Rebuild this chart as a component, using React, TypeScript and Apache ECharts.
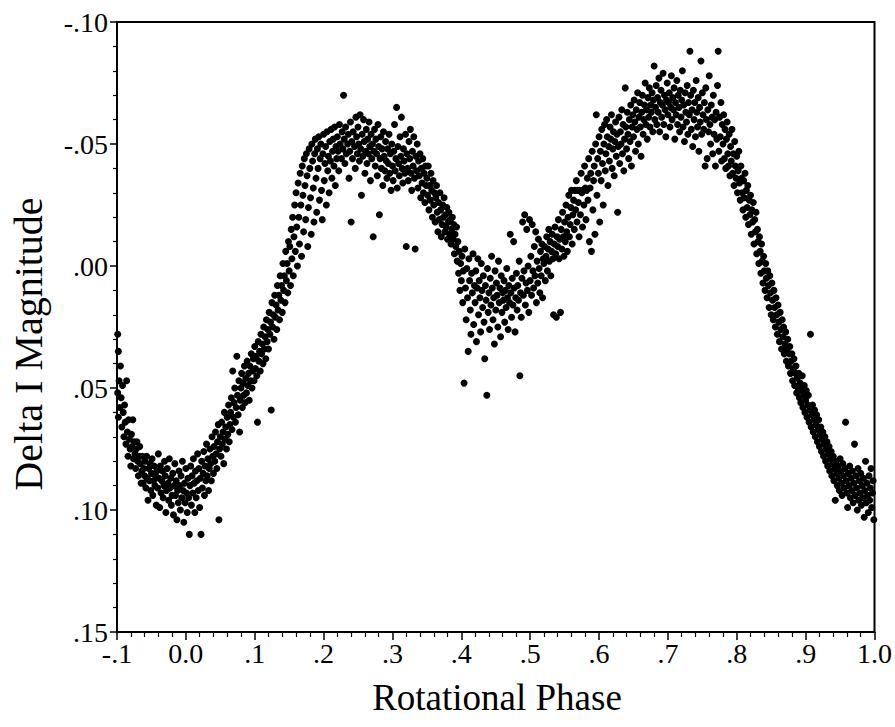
import React, { useEffect, useRef } from "react";
import * as echarts from "echarts";

// Rotational phase vs Delta I magnitude.
const leftEdge: [number, number][] = [
  [-0.099,0.028],[-0.098,0.035],[-0.097,0.047],[-0.099,0.052],[-0.096,0.058],[-0.095,0.041],[-0.098,0.062],[-0.094,0.054],[-0.093,0.066],[-0.092,0.049],[-0.091,0.060],[-0.090,0.070],[-0.089,0.057],[-0.088,0.064],[-0.087,0.073],[-0.086,0.047],[-0.085,0.068],[-0.084,0.078],[-0.083,0.063],[-0.082,0.071],[-0.081,0.075],[-0.080,0.082],[-0.079,0.069],[-0.078,0.074],[-0.077,0.063],[-0.076,0.079],[-0.075,0.072],[-0.074,0.077],[-0.073,0.083],[-0.072,0.075],[-0.071,0.072],[-0.070,0.080],[-0.069,0.086],[-0.068,0.078],[-0.067,0.074],[-0.066,0.081],[-0.065,0.089],[-0.064,0.084],[-0.063,0.078],[-0.062,0.089],[-0.061,0.083],[-0.060,0.086],[-0.059,0.080],[-0.058,0.091],[-0.057,0.078],[-0.056,0.087],[-0.055,0.096],[-0.054,0.083],[-0.053,0.088],[-0.052,0.081],[-0.051,0.092],
];

const primaryMinimum: [number, number][] = [
  [-0.050,0.085],[-0.049,0.079],[-0.048,0.094],[-0.047,0.088],[-0.046,0.082],[-0.045,0.090],[-0.044,0.086],[-0.043,0.098],[-0.042,0.084],[-0.041,0.091],[-0.040,0.077],[-0.039,0.087],[-0.038,0.099],[-0.037,0.082],[-0.036,0.093],[-0.035,0.088],[-0.034,0.084],[-0.033,0.095],[-0.032,0.090],[-0.031,0.080],[-0.030,0.086],[-0.029,0.101],[-0.028,0.092],[-0.027,0.083],[-0.026,0.089],[-0.025,0.096],[-0.024,0.079],[-0.023,0.091],[-0.022,0.087],[-0.021,0.098],[-0.020,0.094],[-0.019,0.085],[-0.018,0.102],[-0.017,0.090],[-0.016,0.081],[-0.015,0.094],[-0.014,0.088],[-0.013,0.104],[-0.012,0.092],[-0.011,0.097],[-0.010,0.084],[-0.009,0.090],[-0.008,0.100],[-0.007,0.086],[-0.006,0.095],[-0.005,0.080],[-0.004,0.092],[-0.003,0.105],[-0.002,0.089],[-0.001,0.097],[0.000,0.083],[0.001,0.093],[0.002,0.101],[0.003,0.087],[0.004,0.095],[0.005,0.110],[0.006,0.090],[0.007,0.082],[0.008,0.098],[0.009,0.086],[0.010,0.093],[0.011,0.079],[0.012,0.089],[0.013,0.101],[0.014,0.084],[0.015,0.095],[0.016,0.088],[0.017,0.077],[0.018,0.092],[0.019,0.083],[0.020,0.099],[0.021,0.087],[0.022,0.110],[0.023,0.080],[0.024,0.091],[0.025,0.085],[0.026,0.076],[0.027,0.094],[0.028,0.082],[0.029,0.088],[0.030,0.073],[0.031,0.086],[0.032,0.079],[0.033,0.092],[0.034,0.083],[0.035,0.075],[0.036,0.081],[0.037,0.088],[0.038,0.070],[0.039,0.078],[0.040,0.085],[0.041,0.074],[0.042,0.080],[0.043,0.068],[0.044,0.077],[0.045,0.083],[0.046,0.072],[0.047,0.065],[0.048,0.104],[0.049,0.075],
];

const risingBranch: [number, number][] = [
  [0.050,0.070],[0.051,0.078],[0.052,0.064],[0.053,0.073],[0.054,0.068],[0.055,0.081],[0.056,0.060],[0.057,0.071],[0.058,0.066],[0.059,0.075],[0.060,0.062],[0.061,0.069],[0.062,0.057],[0.063,0.072],[0.064,0.065],[0.065,0.060],[0.066,0.054],[0.067,0.067],[0.068,0.043],[0.069,0.062],[0.070,0.056],[0.071,0.050],[0.072,0.064],[0.073,0.058],[0.074,0.037],[0.075,0.053],[0.076,0.061],[0.077,0.047],[0.078,0.068],[0.079,0.055],[0.080,0.050],[0.081,0.044],[0.082,0.058],[0.083,0.048],[0.084,0.053],[0.085,0.041],[0.086,0.056],[0.087,0.046],[0.088,0.052],[0.089,0.039],[0.090,0.049],[0.091,0.044],[0.092,0.055],[0.093,0.041],[0.094,0.047],[0.095,0.036],[0.096,0.050],[0.097,0.043],[0.098,0.038],[0.099,0.047],[0.100,0.033],[0.101,0.042],[0.102,0.037],[0.103,0.045],[0.104,0.064],[0.105,0.031],[0.106,0.039],[0.107,0.035],[0.108,0.043],[0.109,0.028],[0.110,0.036],[0.111,0.032],[0.112,0.040],[0.113,0.025],[0.114,0.034],[0.115,0.029],[0.116,0.038],[0.117,0.022],[0.118,0.031],[0.119,0.026],[0.120,0.034],[0.121,0.019],[0.122,0.028],[0.123,0.023],[0.124,0.059],[0.125,0.015],[0.126,0.025],[0.127,0.020],[0.128,0.030],[0.129,0.012],[0.130,0.021],[0.131,0.016],[0.132,0.026],[0.133,0.008],[0.134,0.018],[0.135,0.012],[0.136,0.022],[0.137,0.004],[0.138,0.014],[0.139,0.008],[0.140,0.019],[0.141,-0.001],[0.142,0.010],[0.143,0.004],[0.144,0.015],[0.145,-0.006],[0.146,0.006],[0.147,-0.001],[0.148,0.011],[0.149,-0.010],
];

const upperRise: [number, number][] = [
  [0.150,0.002],[0.151,-0.008],[0.152,0.008],[0.153,-0.015],[0.154,-0.003],[0.155,-0.020],[0.156,0.004],[0.157,-0.012],[0.158,-0.025],[0.159,-0.006],[0.160,-0.030],[0.161,-0.016],[0.162,0.000],[0.163,-0.034],[0.164,-0.020],[0.165,-0.009],[0.166,-0.038],[0.167,-0.025],[0.168,-0.004],[0.169,-0.041],[0.170,-0.029],[0.171,-0.014],[0.172,-0.044],[0.173,-0.033],[0.174,-0.019],[0.175,-0.046],[0.176,-0.037],[0.177,-0.008],[0.178,-0.024],[0.179,-0.048],[0.180,-0.040],[0.181,-0.028],[0.182,-0.013],[0.183,-0.050],[0.184,-0.043],[0.185,-0.032],[0.186,-0.018],[0.187,-0.046],[0.188,-0.052],[0.189,-0.036],[0.190,-0.022],[0.191,-0.048],[0.192,-0.040],[0.193,-0.053],[0.194,-0.027],[0.195,-0.044],[0.196,-0.050],[0.197,-0.031],[0.198,-0.019],[0.199,-0.046],[0.200,-0.054],[0.201,-0.035],[0.202,-0.042],[0.203,-0.049],[0.204,-0.025],[0.205,-0.055],[0.206,-0.039],[0.207,-0.045],[0.208,-0.030],[0.209,-0.051],[0.210,-0.043],[0.211,-0.056],[0.212,-0.036],[0.213,-0.047],[0.214,-0.052],[0.215,-0.041],[0.216,-0.057],[0.217,-0.033],[0.218,-0.049],[0.219,-0.044],
];

const firstMaximum: [number, number][] = [
  [0.220,-0.053],[0.221,-0.047],[0.222,-0.039],[0.223,-0.058],[0.224,-0.050],[0.226,-0.044],[0.227,-0.055],[0.228,-0.048],[0.229,-0.070],[0.230,-0.052],[0.231,-0.042],[0.232,-0.057],[0.233,-0.046],[0.235,-0.050],[0.236,-0.054],[0.237,-0.036],[0.238,-0.047],[0.239,-0.059],[0.240,-0.018],[0.241,-0.051],[0.242,-0.044],[0.243,-0.055],[0.245,-0.049],[0.246,-0.040],[0.247,-0.061],[0.248,-0.053],[0.249,-0.046],[0.250,-0.057],[0.251,-0.050],[0.252,-0.043],[0.253,-0.062],[0.254,-0.048],[0.255,-0.029],[0.256,-0.054],[0.257,-0.045],[0.258,-0.060],[0.259,-0.051],[0.260,-0.038],[0.261,-0.047],[0.262,-0.056],[0.263,-0.042],[0.264,-0.052],[0.265,-0.046],[0.266,-0.059],[0.267,-0.049],[0.268,-0.035],[0.269,-0.054],[0.270,-0.044],[0.271,-0.050],[0.272,-0.012],[0.273,-0.047],[0.274,-0.056],[0.275,-0.041],[0.276,-0.052],[0.277,-0.046],[0.278,-0.037],[0.279,-0.058],[0.280,-0.049],[0.281,-0.021],[0.282,-0.044],[0.283,-0.053],[0.284,-0.040],[0.285,-0.048],[0.286,-0.033],[0.287,-0.055],[0.288,-0.045],[0.289,-0.039],[0.290,-0.051],[0.291,-0.043],[0.292,-0.036],[0.293,-0.048],[0.294,-0.042],[0.295,-0.054],[0.296,-0.038],[0.297,-0.046],[0.298,-0.031],[0.299,-0.050],[0.300,-0.041],[0.301,-0.035],[0.302,-0.047],[0.303,-0.058],[0.304,-0.039],[0.305,-0.044],[0.306,-0.065],[0.307,-0.032],[0.308,-0.049],[0.309,-0.042],[0.310,-0.037],[0.311,-0.053],[0.312,-0.045],[0.313,-0.061],[0.314,-0.040],[0.315,-0.034],[0.316,-0.048],[0.317,-0.043],[0.318,-0.038],[0.319,-0.054],[0.320,-0.008],[0.321,-0.046],[0.322,-0.040],[0.323,-0.035],[0.324,-0.051],[0.325,-0.044],[0.326,-0.056],[0.327,-0.038],[0.328,-0.031],[0.329,-0.047],[0.330,-0.041],[0.331,-0.053],[0.332,-0.036],[0.333,-0.007],[0.334,-0.045],[0.335,-0.039],[0.336,-0.050],[0.337,-0.032],[0.338,-0.043],[0.339,-0.037],[0.340,-0.046],[0.341,-0.028],[0.342,-0.040],[0.343,-0.034],[0.344,-0.044],[0.345,-0.030],[0.346,-0.038],[0.347,-0.026],[0.348,-0.041],[0.349,-0.033],
];

const descentToDip: [number, number][] = [
  [0.350,-0.036],[0.351,-0.029],[0.352,-0.041],[0.353,-0.023],[0.354,-0.033],[0.355,-0.027],[0.356,-0.038],[0.357,-0.031],[0.358,-0.020],[0.359,-0.035],[0.360,-0.025],[0.361,-0.030],[0.362,-0.018],[0.363,-0.028],[0.364,-0.033],[0.365,-0.022],[0.366,-0.014],[0.367,-0.026],[0.368,-0.019],[0.369,-0.030],[0.370,-0.023],[0.371,-0.012],[0.372,-0.017],[0.373,-0.025],[0.374,-0.020],[0.375,-0.028],[0.376,-0.014],[0.377,-0.021],[0.378,-0.016],[0.379,-0.024],[0.380,-0.011],[0.381,-0.018],[0.382,-0.022],[0.383,-0.013],[0.384,-0.019],[0.385,-0.009],[0.386,-0.015],[0.387,-0.020],[0.388,-0.011],[0.389,-0.017],[0.390,-0.005],[0.391,-0.013],[0.392,-0.008],[0.393,-0.016],[0.394,-0.002],[0.395,-0.010],[0.396,0.003],[0.397,-0.006],[0.398,0.010],[0.399,-0.001],[0.400,0.006],[0.401,-0.004],[0.402,0.015],[0.403,0.002],[0.404,0.048],[0.405,-0.007],[0.406,0.009],[0.407,0.022],[0.408,0.001],[0.409,0.013],[0.410,0.035],[0.411,-0.003],[0.412,0.006],[0.413,0.018],[0.414,0.028],[0.415,0.003],[0.416,0.011],[0.417,-0.005],[0.418,0.024],[0.419,0.008],
];

const secondaryDip: [number, number][] = [
  [0.420,0.015],[0.421,0.002],[0.422,0.031],[0.423,0.009],[0.424,-0.003],[0.425,0.020],[0.426,0.006],[0.427,0.013],[0.428,0.027],[0.429,-0.001],[0.430,0.010],[0.431,0.017],[0.432,0.004],[0.433,0.023],[0.434,0.038],[0.435,0.008],[0.436,0.014],[0.437,0.053],[0.438,0.001],[0.439,0.019],[0.440,0.011],[0.441,0.026],[0.442,0.005],[0.443,0.016],[0.444,-0.004],[0.445,0.009],[0.446,0.022],[0.447,0.013],[0.448,0.032],[0.449,0.002],[0.450,0.018],[0.451,0.007],[0.452,0.012],[0.453,0.025],[0.454,-0.002],[0.455,0.015],[0.456,0.009],[0.457,0.029],[0.458,0.004],[0.459,0.019],[0.460,0.011],[0.461,0.014],[0.462,0.006],[0.463,0.023],[0.464,0.010],[0.465,0.017],[0.466,0.001],[0.467,0.013],[0.468,0.026],[0.469,0.008],[0.470,0.015],[0.471,-0.013],[0.472,0.011],[0.473,0.021],[0.474,0.005],[0.475,0.016],[0.476,-0.010],[0.477,0.009],[0.478,0.027],[0.479,0.013],[0.480,0.003],[0.481,0.018],[0.482,0.008],[0.483,0.014],[0.484,-0.002],[0.485,0.045],[0.486,0.011],[0.487,0.021],[0.488,0.005],[0.489,-0.018],[0.490,0.012],[0.491,0.002],[0.492,-0.021],[0.493,0.016],[0.494,0.007],[0.495,-0.015],[0.496,0.010],[0.497,0.000],[0.498,0.019],[0.499,-0.019],[0.500,0.006],[0.501,-0.004],[0.502,0.012],[0.503,-0.017],[0.504,0.002],[0.505,0.009],[0.506,-0.008],[0.507,0.004],[0.508,-0.014],[0.509,0.015],[0.510,-0.002],[0.511,0.007],[0.512,-0.011],[0.513,0.001],[0.514,0.011],[0.515,-0.006],[0.516,0.004],[0.517,-0.009],[0.518,0.013],[0.519,-0.003],
];

const riseToSecondPeak: [number, number][] = [
  [0.520,-0.001],[0.521,-0.008],[0.522,0.006],[0.523,-0.004],[0.524,-0.012],[0.525,0.002],[0.526,-0.007],[0.527,-0.015],[0.528,-0.002],[0.529,-0.010],[0.530,0.004],[0.531,-0.006],[0.532,-0.013],[0.533,-0.003],[0.534,0.020],[0.535,-0.009],[0.536,-0.016],[0.537,-0.005],[0.538,0.021],[0.539,-0.012],[0.540,-0.008],[0.541,-0.019],[0.542,-0.003],[0.543,-0.011],[0.544,0.019],[0.545,-0.015],[0.546,-0.007],[0.547,-0.022],[0.548,-0.012],[0.549,-0.004],[0.550,-0.018],[0.551,-0.010],[0.552,-0.025],[0.553,-0.014],[0.554,-0.006],[0.555,-0.020],[0.556,-0.029],[0.557,-0.012],[0.558,-0.017],[0.559,-0.024],[0.560,-0.031],[0.561,-0.009],[0.562,-0.021],[0.563,-0.027],[0.564,-0.015],[0.565,-0.031],[0.566,-0.023],[0.567,-0.035],[0.568,-0.018],[0.569,-0.031],[0.570,-0.026],[0.571,-0.012],[0.572,-0.031],[0.573,-0.021],[0.574,-0.038],[0.575,-0.030],[0.576,-0.016],[0.577,-0.031],[0.578,-0.025],[0.579,-0.041],[0.580,-0.032],[0.581,-0.019],[0.582,-0.031],[0.583,-0.036],[0.584,-0.027],[0.585,-0.044],[0.586,-0.010],[0.587,-0.032],[0.588,-0.038],[0.589,-0.006],[0.590,-0.047],[0.591,-0.023],[0.592,-0.035],[0.593,-0.041],[0.594,-0.013],[0.595,-0.050],[0.596,-0.062],[0.597,-0.029],[0.598,-0.044],[0.599,-0.038],[0.600,-0.053],[0.601,-0.018],[0.602,-0.047],[0.603,-0.035],[0.604,-0.056],[0.605,-0.042],[0.606,-0.025],[0.607,-0.050],[0.608,-0.058],[0.609,-0.039],[0.610,-0.046],[0.611,-0.060],[0.612,-0.053],[0.613,-0.033],[0.614,-0.049],[0.615,-0.043],[0.616,-0.057],[0.617,-0.052],[0.618,-0.062],[0.619,-0.040],[0.620,-0.048],[0.621,-0.055],[0.622,-0.037],[0.623,-0.051],[0.624,-0.059],[0.625,-0.045],[0.626,-0.054],[0.627,-0.022],[0.628,-0.049],[0.629,-0.061],[0.630,-0.042],[0.631,-0.055],[0.632,-0.050],[0.633,-0.064],[0.634,-0.046],[0.635,-0.058],[0.636,-0.039],[0.637,-0.052],[0.638,-0.073],[0.639,-0.057],[0.640,-0.048],[0.641,-0.063],[0.642,-0.054],[0.643,-0.044],[0.644,-0.060],[0.645,-0.051],[0.646,-0.066],[0.647,-0.041],[0.648,-0.057],[0.649,-0.062],
];

const secondMaximum: [number, number][] = [
  [0.650,-0.053],[0.651,-0.068],[0.652,-0.059],[0.653,-0.047],[0.654,-0.064],[0.655,-0.056],[0.656,-0.071],[0.657,-0.050],[0.658,-0.061],[0.659,-0.067],[0.660,-0.057],[0.661,-0.045],[0.662,-0.063],[0.663,-0.070],[0.664,-0.054],[0.665,-0.060],[0.666,-0.066],[0.667,-0.075],[0.668,-0.058],[0.669,-0.064],[0.670,-0.052],[0.671,-0.069],[0.672,-0.061],[0.673,-0.073],[0.674,-0.057],[0.675,-0.066],[0.676,-0.063],[0.677,-0.071],[0.678,-0.055],[0.679,-0.068],[0.680,-0.082],[0.681,-0.060],[0.682,-0.065],[0.683,-0.074],[0.684,-0.058],[0.685,-0.069],[0.686,-0.063],[0.687,-0.077],[0.688,-0.055],[0.689,-0.067],[0.690,-0.072],[0.691,-0.061],[0.692,-0.066],[0.693,-0.079],[0.694,-0.058],[0.695,-0.070],[0.696,-0.064],[0.697,-0.053],[0.698,-0.068],[0.699,-0.075],[0.700,-0.062],[0.701,-0.067],[0.702,-0.071],[0.703,-0.057],[0.704,-0.065],[0.705,-0.078],[0.706,-0.060],[0.707,-0.069],[0.708,-0.064],[0.709,-0.073],[0.710,-0.052],[0.711,-0.067],[0.712,-0.062],[0.713,-0.076],[0.714,-0.058],[0.715,-0.070],[0.716,-0.065],[0.717,-0.055],[0.718,-0.072],[0.719,-0.061],[0.720,-0.068],[0.721,-0.080],[0.722,-0.057],[0.723,-0.066],[0.724,-0.051],[0.725,-0.071],[0.726,-0.063],[0.727,-0.059],[0.728,-0.074],[0.729,-0.054],[0.730,-0.067],[0.731,-0.062],[0.732,-0.088],[0.733,-0.070],[0.734,-0.056],[0.735,-0.064],[0.736,-0.049],[0.737,-0.072],[0.738,-0.060],[0.739,-0.067],[0.740,-0.053],[0.741,-0.076],[0.742,-0.063],[0.743,-0.057],[0.744,-0.069],[0.745,-0.047],[0.746,-0.065],[0.747,-0.059],[0.748,-0.084],[0.749,-0.054],[0.750,-0.071],[0.751,-0.062],[0.752,-0.056],[0.753,-0.067],[0.754,-0.041],[0.755,-0.073],[0.756,-0.060],[0.757,-0.044],[0.758,-0.064],[0.759,-0.055],[0.760,-0.078],[0.761,-0.058],[0.762,-0.050],[0.763,-0.066],[0.764,-0.061],[0.765,-0.046],[0.766,-0.070],[0.767,-0.054],[0.768,-0.060],[0.769,-0.041],[0.770,-0.063],[0.771,-0.052],[0.772,-0.074],[0.773,-0.088],[0.774,-0.047],[0.775,-0.061],[0.776,-0.053],[0.777,-0.067],[0.778,-0.043],[0.779,-0.058],
];

const finalDescent: [number, number][] = [
  [0.780,-0.050],[0.781,-0.062],[0.782,-0.044],[0.783,-0.056],[0.784,-0.040],[0.785,-0.052],[0.786,-0.059],[0.787,-0.046],[0.788,-0.041],[0.789,-0.054],[0.790,-0.037],[0.791,-0.049],[0.792,-0.043],[0.793,-0.056],[0.794,-0.038],[0.795,-0.046],[0.796,-0.033],[0.797,-0.051],[0.798,-0.041],[0.799,-0.036],[0.800,-0.045],[0.801,-0.030],[0.802,-0.039],[0.803,-0.047],[0.804,-0.034],[0.805,-0.027],[0.806,-0.041],[0.807,-0.036],[0.808,-0.030],[0.809,-0.023],[0.810,-0.035],[0.811,-0.028],[0.812,-0.038],[0.813,-0.020],[0.814,-0.031],[0.815,-0.024],[0.816,-0.033],[0.817,-0.017],[0.818,-0.027],[0.819,-0.021],[0.820,-0.029],[0.821,-0.013],[0.822,-0.023],[0.823,-0.018],[0.824,-0.026],[0.825,-0.009],[0.826,-0.019],[0.827,-0.014],[0.828,-0.022],[0.829,-0.005],[0.830,-0.015],[0.831,-0.010],[0.832,-0.001],[0.833,-0.012],[0.834,-0.006],[0.835,0.003],[0.836,-0.009],[0.837,-0.002],[0.838,0.007],[0.839,-0.004],[0.840,0.002],[0.841,0.010],[0.842,-0.001],[0.843,0.005],[0.844,0.013],[0.845,0.002],[0.846,0.008],[0.847,0.017],[0.848,0.004],[0.849,0.011],[0.850,0.020],[0.851,0.007],[0.852,0.014],[0.853,0.022],[0.854,0.010],[0.855,0.017],[0.856,0.025],[0.857,0.013],[0.858,0.020],[0.859,0.028],[0.860,0.016],[0.861,0.023],[0.862,0.031],[0.863,0.019],[0.864,0.026],[0.865,0.034],[0.866,0.022],[0.867,0.029],[0.868,0.025],[0.869,0.036],[0.870,0.032],[0.871,0.027],[0.872,0.039],[0.873,0.034],[0.874,0.030],[0.875,0.041],[0.876,0.036],[0.877,0.033],[0.878,0.044],[0.879,0.039],[0.880,0.036],[0.881,0.047],[0.882,0.042],[0.883,0.038],[0.884,0.049],[0.885,0.044],[0.886,0.041],[0.887,0.052],[0.888,0.046],[0.889,0.050],[0.890,0.044],[0.891,0.054],[0.892,0.048],[0.893,0.056],[0.894,0.051],[0.895,0.045],[0.896,0.058],[0.897,0.053],[0.898,0.049],[0.899,0.060],[0.900,0.055],[0.901,0.051],[0.902,0.062],[0.903,0.057],[0.904,0.053],[0.905,0.064],[0.906,0.059],[0.907,0.028],[0.908,0.066],[0.909,0.061],[0.910,0.057],[0.911,0.068],[0.912,0.063],[0.913,0.059],[0.914,0.070],[0.915,0.065],[0.916,0.061],[0.917,0.072],[0.918,0.067],[0.919,0.063],[0.920,0.074],[0.921,0.069],[0.922,0.066],[0.923,0.076],[0.924,0.071],[0.925,0.068],[0.926,0.078],[0.927,0.073],[0.928,0.070],[0.929,0.080],[0.930,0.075],[0.931,0.072],[0.932,0.082],[0.933,0.077],[0.934,0.074],[0.935,0.084],[0.936,0.079],[0.937,0.076],[0.938,0.086],[0.939,0.081],[0.940,0.078],[0.941,0.088],[0.942,0.083],[0.943,0.096],[0.944,0.080],[0.945,0.085],[0.946,0.090],[0.947,0.082],[0.948,0.087],[0.949,0.092],[0.950,0.079],[0.951,0.084],[0.952,0.089],[0.953,0.094],[0.954,0.081],[0.955,0.086],[0.956,0.091],[0.957,0.083],[0.958,0.064],[0.959,0.088],[0.960,0.093],[0.961,0.099],[0.962,0.085],[0.963,0.090],[0.964,0.082],[0.965,0.095],[0.966,0.087],[0.967,0.092],[0.968,0.084],[0.969,0.097],[0.970,0.089],[0.971,0.073],[0.972,0.094],[0.973,0.086],[0.974,0.091],[0.975,0.100],[0.976,0.083],[0.977,0.096],[0.978,0.088],[0.979,0.093],[0.980,0.085],[0.981,0.098],[0.982,0.090],[0.983,0.095],[0.984,0.087],[0.985,0.103],[0.986,0.092],[0.987,0.080],[0.988,0.097],[0.989,0.089],[0.990,0.094],[0.991,0.101],[0.992,0.086],[0.993,0.096],[0.994,0.091],[0.995,0.083],[0.996,0.099],[0.997,0.093],[0.998,0.088],[0.999,0.104],
];

const xTitle = "Rotational Phase";
const yTitle = "Delta I Magnitude";

const SERIF = '"Liberation Serif", "Times New Roman", serif';

function fmtX(v: number): string {
  const r = Math.round(v * 10) / 10;
  if (r === 0) return "0.0";
  if (r === 1) return "1.0";
  return r.toFixed(1).replace("0.", ".");
}

function fmtY(v: number): string {
  const r = Math.round(v * 100) / 100;
  return r.toFixed(2).replace("0.", ".");
}

export default function App() {
  const ref = useRef<HTMLDivElement>(null);

  useEffect(() => {
    if (!ref.current) return;
    const chart = echarts.init(ref.current, undefined, { renderer: "svg" });
    const points = [
      ...leftEdge,
      ...primaryMinimum,
      ...risingBranch,
      ...upperRise,
      ...firstMaximum,
      ...descentToDip,
      ...secondaryDip,
      ...riseToSecondPeak,
      ...secondMaximum,
      ...finalDescent,
    ];
    chart.setOption({
      animation: false,
      backgroundColor: "#ffffff",
      grid: {
        left: 117,
        right: 18,
        top: 22,
        bottom: 95,
        show: true,
        borderColor: "#000",
        borderWidth: 2,
        backgroundColor: "transparent",
      },
      xAxis: {
        type: "value",
        min: -0.1,
        max: 1.0,
        interval: 0.1,
        axisLine: { show: true, onZero: false, lineStyle: { color: "#000", width: 2 } },
        axisTick: { show: true, inside: false, length: 8, lineStyle: { color: "#000", width: 1.5 } },
        minorTick: { show: true, splitNumber: 5, length: 5, lineStyle: { color: "#000", width: 1.2 } },
        splitLine: { show: false },
        minorSplitLine: { show: false },
        axisLabel: {
          fontFamily: SERIF,
          fontSize: 28,
          color: "#000",
          margin: 7,
          formatter: fmtX,
        },
      },
      yAxis: {
        type: "value",
        inverse: true,
        min: -0.1,
        max: 0.15,
        interval: 0.05,
        axisLine: { show: true, onZero: false, lineStyle: { color: "#000", width: 2 } },
        axisTick: { show: true, inside: false, length: 7, lineStyle: { color: "#000", width: 1.5 } },
        minorTick: { show: true, splitNumber: 5, length: 4, lineStyle: { color: "#000", width: 1.2 } },
        splitLine: { show: false },
        minorSplitLine: { show: false },
        axisLabel: {
          fontFamily: SERIF,
          fontSize: 28,
          color: "#000",
          margin: 9,
          formatter: fmtY,
        },
      },
      graphic: [
        {
          type: "text",
          x: 28,
          y: 344,
          rotation: Math.PI / 2,
          style: {
            text: yTitle,
            font: `40px ${SERIF}`,
            fill: "#000",
            align: "center",
            verticalAlign: "middle",
          },
        },
        {
          type: "text",
          x: 497,
          y: 697,
          style: {
            text: xTitle,
            font: `37px ${SERIF}`,
            fill: "#000",
            align: "center",
            verticalAlign: "middle",
          },
        },
      ],
      series: [
        {
          type: "scatter",
          data: points,
          symbol: "circle",
          symbolSize: 7,
          itemStyle: { color: "#000", opacity: 1 },
          clip: true,
          silent: true,
        },
      ],
    });
    return () => chart.dispose();
  }, []);

  return (
    <div
      ref={ref}
      style={{ position: "fixed", left: 0, top: 0, width: 895, height: 727, background: "#fff" }}
    />
  );
}
